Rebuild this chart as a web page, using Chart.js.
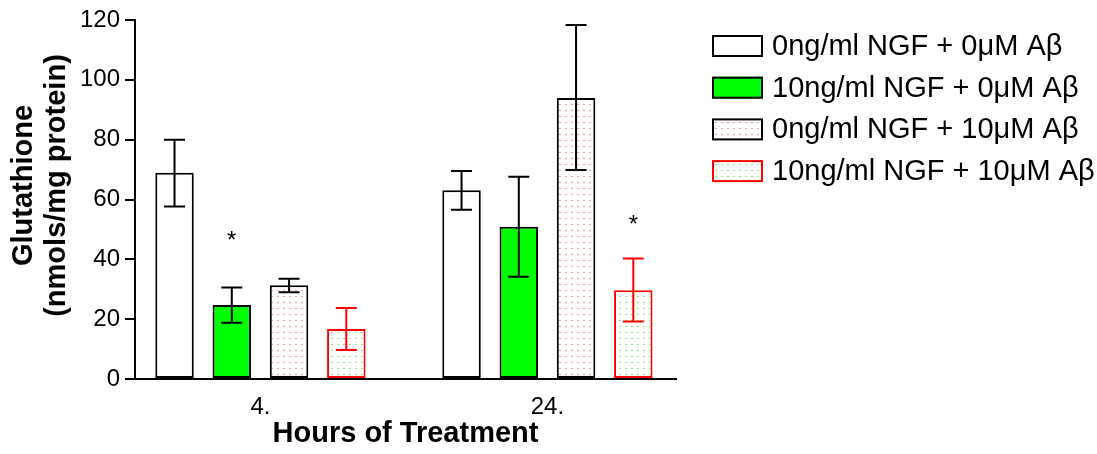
<!DOCTYPE html>
<html>
<head>
<meta charset="utf-8">
<title>Glutathione</title>
<script src="https://cdn.jsdelivr.net/npm/chart.js@4.4.1/dist/chart.umd.min.js"></script>
<style>
  html, body { margin: 0; padding: 0; background: #fff; }
</style>
</head>
<body>
<canvas id="gshChart" width="1097" height="454"></canvas>
<script>
// hours of treatment (x categories)
const hours = ['4.', '24.'];

const seriesLabels = [
    '0ng/ml NGF + 0\u03bcM A\u03b2',
    '10ng/ml NGF + 0\u03bcM A\u03b2',
    '0ng/ml NGF + 10\u03bcM A\u03b2',
    '10ng/ml NGF + 10\u03bcM A\u03b2'
];

const yTitleLines = ['Glutathione', '(nmols/mg protein)'];

// mean glutathione, nmols/mg protein
const ctrl     = [68.9, 63.1];
const ngf      = [24.7, 50.9];
const abeta    = [31.3, 93.9];
const ngfAbeta = [16.7, 29.7];

// error bar ends
const ctrlLow      = [57.7, 56.6];
const ctrlHigh     = [80.0, 69.5];
const ngfLow       = [18.8, 34.2];
const ngfHigh      = [30.6, 67.6];
const abetaLow     = [29.0, 69.9];
const abetaHigh    = [33.5, 118.3];
const ngfAbetaLow  = [9.7, 19.2];
const ngfAbetaHigh = [23.7, 40.3];

// significance markers (* level)
const ngfStar      = [46.0, null];
const ngfAbetaStar = [null, 51.5];

const yTicks = [0, 20, 40, 60, 80, 100, 120];

const FONT = "'Liberation Sans', Arial, sans-serif";
const ctx = document.getElementById('gshChart').getContext('2d');

function dotPattern(color) {
    const c = document.createElement('canvas');
    c.width = 6;
    c.height = 6;
    const g = c.getContext('2d');
    g.fillStyle = '#fff';
    g.fillRect(0, 0, 6, 6);
    g.fillStyle = color;
    g.fillRect(1, 2, 2, 1);
    return ctx.createPattern(c, 'repeat');
}

const toPoints = vals => vals.map((v, i) => ({ x: i, y: v }));

const errorBars = {
    id: 'errorBars',
    afterDatasetsDraw(chart, args, opts) {
        const c = chart.ctx;
        const y = chart.scales.y;
        chart.data.datasets.forEach((ds, i) => {
            const meta = chart.getDatasetMeta(i);
            meta.data.forEach((bar, j) => {
                const hi = y.getPixelForValue(ds.errHigh[j]);
                const lo = y.getPixelForValue(ds.errLow[j]);
                c.save();
                c.strokeStyle = ds.errColor;
                c.lineWidth = 2;
                c.beginPath();
                c.moveTo(bar.x, hi); c.lineTo(bar.x, lo);
                c.moveTo(bar.x - opts.cap, hi); c.lineTo(bar.x + opts.cap, hi);
                c.moveTo(bar.x - opts.cap, lo); c.lineTo(bar.x + opts.cap, lo);
                c.stroke();
                if (ds.star && ds.star[j] != null) {
                    c.fillStyle = '#000';
                    c.font = '24px ' + FONT;
                    c.textAlign = 'center';
                    c.textBaseline = 'middle';
                    c.fillText('*', bar.x, y.getPixelForValue(ds.star[j]));
                }
                c.restore();
            });
        });
    }
};

// legend box at the right, drawn by hand
const sideLegend = {
    id: 'sideLegend',
    afterDraw(chart, args, opts) {
        const c = chart.ctx;
        c.save();
        c.font = opts.font;
        c.textBaseline = 'middle';
        c.textAlign = 'left';
        chart.data.datasets.forEach((ds, i) => {
            const top = opts.top + i * opts.rowGap;
            c.fillStyle = ds.backgroundColor;
            c.fillRect(opts.left, top, opts.boxW, opts.boxH);
            c.strokeStyle = ds.borderColor;
            c.lineWidth = 2;
            c.strokeRect(opts.left + 1, top + 1, opts.boxW - 2, opts.boxH - 2);
            c.fillStyle = '#000';
            c.fillText(ds.label, opts.left + opts.boxW + 9, top + opts.boxH / 2 + 1);
        });
        c.restore();
    }
};

// two-line y title, sits a bit above the plot's middle like the original
const yTitle = {
    id: 'yTitle',
    afterDraw(chart, args, opts) {
        const c = chart.ctx;
        const a = chart.chartArea;
        c.save();
        c.translate(opts.x, (a.top + a.bottom) / 2 + opts.shift);
        c.rotate(-Math.PI / 2);
        c.font = opts.font;
        c.fillStyle = '#000';
        c.textAlign = 'center';
        c.textBaseline = 'middle';
        yTitleLines.forEach((t, i) => c.fillText(t, 0, i * opts.lineGap));
        c.restore();
    }
};

const data = {
    datasets: [{
        label: seriesLabels[0],
        data: toPoints(ctrl),
        errLow: ctrlLow, errHigh: ctrlHigh,
        backgroundColor: '#ffffff',
        borderColor: '#000000',
        errColor: '#000000'
    }, {
        label: seriesLabels[1],
        data: toPoints(ngf),
        errLow: ngfLow, errHigh: ngfHigh, star: ngfStar,
        backgroundColor: '#00ff00',
        borderColor: '#000000',
        errColor: '#000000'
    }, {
        label: seriesLabels[2],
        data: toPoints(abeta),
        errLow: abetaLow, errHigh: abetaHigh,
        backgroundColor: dotPattern('#f59a9a'),
        borderColor: '#000000',
        errColor: '#000000'
    }, {
        label: seriesLabels[3],
        data: toPoints(ngfAbeta),
        errLow: ngfAbetaLow, errHigh: ngfAbetaHigh, star: ngfAbetaStar,
        backgroundColor: dotPattern('#8ce88c'),
        borderColor: '#ff0000',
        errColor: '#ff0000'
    }]
};

const config = {
    type: 'bar',
    data: data,
    options: {
        responsive: false,
        animation: false,
        layout: { padding: { top: 20, right: 421, bottom: 0, left: 0 } },
        datasets: {
            bar: {
                borderWidth: 2,
                borderSkipped: false,
                categoryPercentage: 0.798,
                barPercentage: 0.672
            }
        },
        scales: {
            x: {
                type: 'linear',
                offset: false,
                min: -0.437,
                max: 1.448,
                afterBuildTicks: scale => { scale.ticks = hours.map((h, i) => ({ value: i })); },
                afterFit: scale => { scale.height = 75; },
                grid: { display: false, drawTicks: false },
                border: { display: true, color: '#000', width: 2 },
                ticks: {
                    color: '#000',
                    padding: 14,
                    font: { family: FONT, size: 24 },
                    callback: v => hours[v]
                },
                title: {
                    display: true,
                    text: 'Hours of Treatment',
                    color: '#000',
                    font: { family: FONT, size: 29, weight: 'bold' },
                    padding: { top: 0, bottom: 3 }
                }
            },
            y: {
                min: 0,
                max: 120,
                afterBuildTicks: scale => { scale.ticks = yTicks.map(v => ({ value: v })); },
                afterFit: scale => { scale.width = 135; },
                grid: {
                    drawOnChartArea: false,
                    drawTicks: true,
                    tickLength: 10,
                    color: '#000',
                    lineWidth: 2
                },
                border: { display: true, color: '#000', width: 2 },
                ticks: {
                    color: '#000',
                    padding: 5,
                    font: { family: FONT, size: 24 }
                },
                title: { display: false }
            }
        },
        plugins: {
            legend: { display: false },
            tooltip: { enabled: false },
            errorBars: { cap: 10.5 },
            sideLegend: {
                left: 712, top: 35, rowGap: 41.7, boxW: 51, boxH: 22,
                font: '29px ' + FONT
            },
            yTitle: { x: 23.5, shift: -14, lineGap: 33, font: 'bold 29px ' + FONT }
        }
    },
    plugins: [errorBars, sideLegend, yTitle]
};

new Chart(ctx, config);
</script>
</body>
</html>
